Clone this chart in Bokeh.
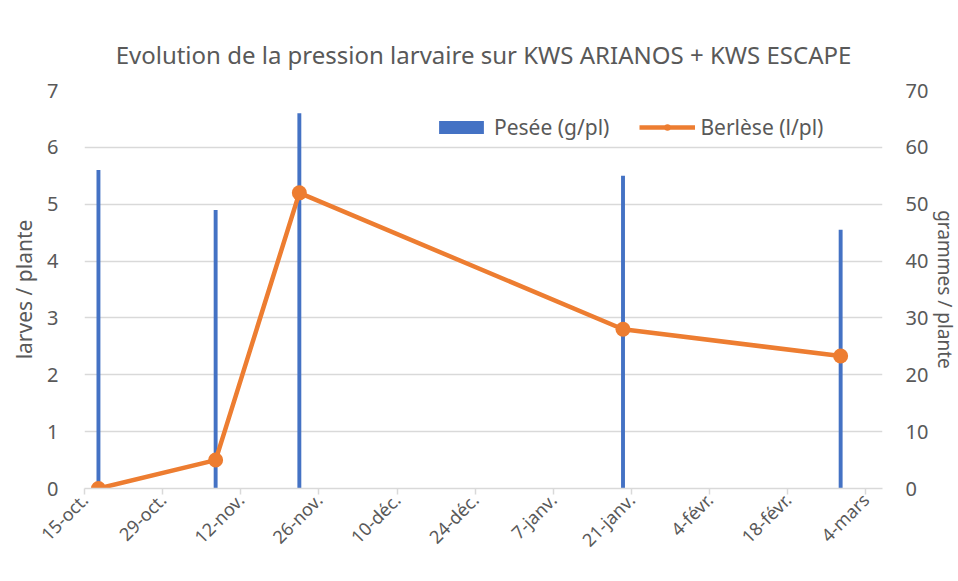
import math
import pandas as pd
from bokeh.plotting import figure
from bokeh.models import (Range1d, LinearAxis, FixedTicker, CustomJSTickFormatter,
                          Legend, LegendItem, ColumnDataSource)
from bokeh.embed import file_html
from bokeh.resources import INLINE

# ---- data ----
sample_dates = ["2020-10-17", "2020-11-07", "2020-11-22", "2021-01-19", "2021-02-27"]
pesee = [56.0, 49.0, 66.0, 55.0, 45.5]          # g / plante (right axis)
berlese = [0.0, 0.5, 5.2, 2.8, 2.33]            # larves / plante (left axis)
tick_dates = ["2020-10-15", "2020-10-29", "2020-11-12", "2020-11-26", "2020-12-10",
              "2020-12-24", "2021-01-07", "2021-01-21", "2021-02-04", "2021-02-18",
              "2021-03-04"]
tick_labels = ["15-oct.", "29-oct.", "12-nov.", "26-nov.", "10-déc.", "24-déc.",
               "7-janv.", "21-janv.", "4-févr.", "18-févr.", "4-mars"]
left_ticks = [0, 1, 2, 3, 4, 5, 6, 7]
right_ticks = [0, 10, 20, 30, 40, 50, 60, 70]

FONT = "Noto Sans"
GREY = "#595959"
GRID = "#d9d9d9"
BLUE = "#4472C4"
ORANGE = "#ED7D31"

x = pd.to_datetime(sample_dates) + pd.Timedelta(hours=12)
src = ColumnDataSource(dict(x=x, pesee=pesee, berlese=berlese))
tick_ms = [int(pd.Timestamp(d).value // 10**6) for d in tick_dates]

p = figure(frame_width=798, frame_height=398, x_axis_type="datetime", output_backend="svg",
           toolbar_location=None,
           x_range=Range1d(pd.Timestamp("2020-10-15"), pd.Timestamp("2021-03-07")),
           y_range=Range1d(0, 7),
           min_border_left=84, min_border_right=66, min_border_top=90, min_border_bottom=91)
p.outline_line_color = None
p.extra_y_ranges = {"g": Range1d(0, 70)}

# title
p.title.text = "Evolution de la pression larvaire sur KWS ARIANOS + KWS ESCAPE"
p.title.align = "center"
p.title.text_font = FONT
p.title.text_font_size = "24px"
p.title.text_font_style = "normal"
p.title.text_color = GREY
p.title.standoff = 40

# bars (right axis)
bars = p.vbar(x="x", top="pesee", bottom=0, width=0.7 * 86400000, source=src,
              y_range_name="g", fill_color=BLUE, line_color=None)
# line (left axis)
ln = p.line(x="x", y="berlese", source=src, line_color=ORANGE, line_width=4.5)
pts = p.scatter(x="x", y="berlese", source=src, size=15, fill_color=ORANGE, line_color=None)

# x axis
xa = p.xaxis[0]
xa.ticker = FixedTicker(ticks=tick_ms)
xa.formatter = CustomJSTickFormatter(args=dict(labels=tick_labels, start=tick_ms[0]),
                                     code="""
const i = Math.round((tick - start) / (14 * 86400000));
return (i >= 0 && i < labels.length) ? labels[i] : "";
""")
xa.major_label_orientation = math.pi / 4
xa.axis_line_color = GRID
xa.axis_line_width = 1.5
xa.major_tick_line_color = GRID
xa.major_tick_line_width = 1.5
xa.major_tick_out = 6
xa.major_tick_in = 0
xa.minor_tick_line_color = None
xa.major_label_text_font = FONT
xa.major_label_text_font_size = "18px"
xa.major_label_text_color = GREY
xa.major_label_standoff = 2

# left y axis
ya = p.yaxis[0]
ya.ticker = FixedTicker(ticks=left_ticks)
ya.axis_line_color = None
ya.major_tick_line_color = None
ya.minor_tick_line_color = None
ya.major_label_standoff = 20
ya.major_label_text_font = FONT
ya.major_label_text_font_size = "20px"
ya.major_label_text_color = GREY
ya.axis_label = "larves / plante"
ya.axis_label_text_font = FONT
ya.axis_label_text_font_size = "21px"
ya.axis_label_text_font_style = "normal"
ya.axis_label_text_color = GREY
ya.axis_label_standoff = 6

# right y axis
ra = LinearAxis(y_range_name="g", ticker=FixedTicker(ticks=right_ticks))
ra.axis_line_color = None
ra.major_tick_line_color = None
ra.minor_tick_line_color = None
ra.major_label_standoff = 17
ra.major_label_text_font = FONT
ra.major_label_text_font_size = "20px"
ra.major_label_text_color = GREY
ra.axis_label = "grammes / plante"
ra.axis_label_text_font = FONT
ra.axis_label_text_font_size = "19px"
ra.axis_label_text_font_style = "normal"
ra.axis_label_text_color = GREY
ra.axis_label_standoff = 1
p.add_layout(ra, "right")

p.xgrid.grid_line_color = None
p.ygrid.grid_line_color = GRID
p.ygrid.grid_line_width = 1.5
p.ygrid.ticker = FixedTicker(ticks=left_ticks)

legend = Legend(items=[LegendItem(label="Pesée (g/pl)", renderers=[bars]),
                       LegendItem(label="Berlèse (l/pl)", renderers=[ln, pts])],
                orientation="horizontal", location=(349, 347),
                border_line_color=None, background_fill_alpha=0,
                glyph_width=56, glyph_height=16, label_standoff=5, spacing=30,
                padding=0, margin=0,
                label_text_font=FONT, label_text_font_size="21px", label_text_color=GREY)
p.add_layout(legend, "center")

open("out.html", "w").write(file_html(p, INLINE))
